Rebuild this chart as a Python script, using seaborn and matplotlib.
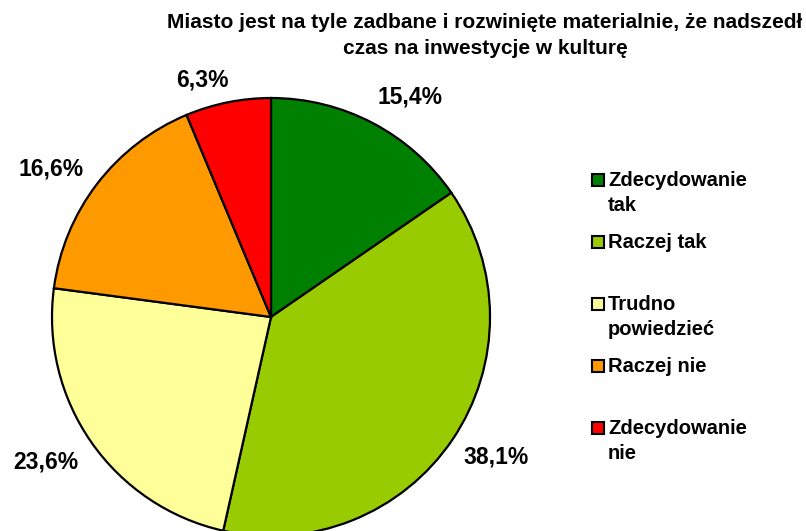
import numpy as np
import seaborn as sns
import matplotlib
matplotlib.use("Agg")
import matplotlib.pyplot as plt
from matplotlib.patches import Rectangle
from matplotlib.transforms import offset_copy

# dane z wykresu
categories = ["Zdecydowanie\ntak", "Raczej tak", "Trudno\npowiedzieć", "Raczej nie", "Zdecydowanie\nnie"]
values = [15.4, 38.1, 23.6, 16.6, 6.3]
colors = ["#008000", "#99CC00", "#FFFF99", "#FF9900", "#FF0000"]
title = "Miasto jest na tyle zadbane i rozwinięte materialnie, że nadszedł\nczas na inwestycje w kulturę"

sns.set_theme(style="white")
plt.rcParams['font.family'] = ['Liberation Sans', 'DejaVu Sans']
plt.rcParams['font.weight'] = 'bold'
plt.rcParams['text.color'] = 'black'

W, H = 806, 531
fig = plt.figure(figsize=(W / 100, H / 100), dpi=100)

# koło: środek (271, 317), promień 219 px
cx, cy, r = 271, 317, 219
ax = fig.add_axes([(cx - r) / W, (H - cy - r) / H, 2 * r / W, 2 * r / H])
wedges, _ = ax.pie(values, colors=colors, startangle=90, counterclock=False, radius=1,
                   wedgeprops=dict(edgecolor="black", linewidth=1.6))
ax.set_xlim(-1, 1)
ax.set_ylim(-1, 1)
ax.axis("off")

# etykiety procentowe na zewnątrz (z przesunięciem w pikselach jak w Excelu)
label_dist = [1.19, 1.23, 1.215, 1.22, 1.13]
label_nudge = [(18, -11), (2, 11), (-7, 7), (-8, -14), (-20, -6)]
for w, v, d, (nx, ny) in zip(wedges, values, label_dist, label_nudge):
    ang = np.deg2rad((w.theta1 + w.theta2) / 2)
    tr = offset_copy(ax.transData, fig=fig, x=nx, y=ny, units="dots")
    ax.text(d * np.cos(ang), d * np.sin(ang), f"{v:.1f}".replace(".", ",") + "%",
            transform=tr, ha="center", va="center", fontsize=16.5, color="black",
            fontweight="bold", clip_on=False)

# tytuł
fig.text(485 / W, 1 - 13 / H, title, ha="center", va="top", fontsize=15,
         fontweight="bold", linespacing=1.45, color="black")

# legenda (ręcznie, równe odstępy jak w Excelu)
for i, (lab, col) in enumerate(zip(categories, colors)):
    base = 187 + 62 * i
    fig.patches.append(Rectangle((592 / W, 1 - 186 / H - 62 * i / H), 12 / W, 12 / H,
                                 transform=fig.transFigure, facecolor=col,
                                 edgecolor="black", linewidth=1.5))
    fig.text(608 / W, 1 - (base - 16) / H, lab, ha="left", va="top", fontsize=14.5,
             fontweight="bold", linespacing=1.42, color="black")

fig.savefig("out.png", dpi=100)
